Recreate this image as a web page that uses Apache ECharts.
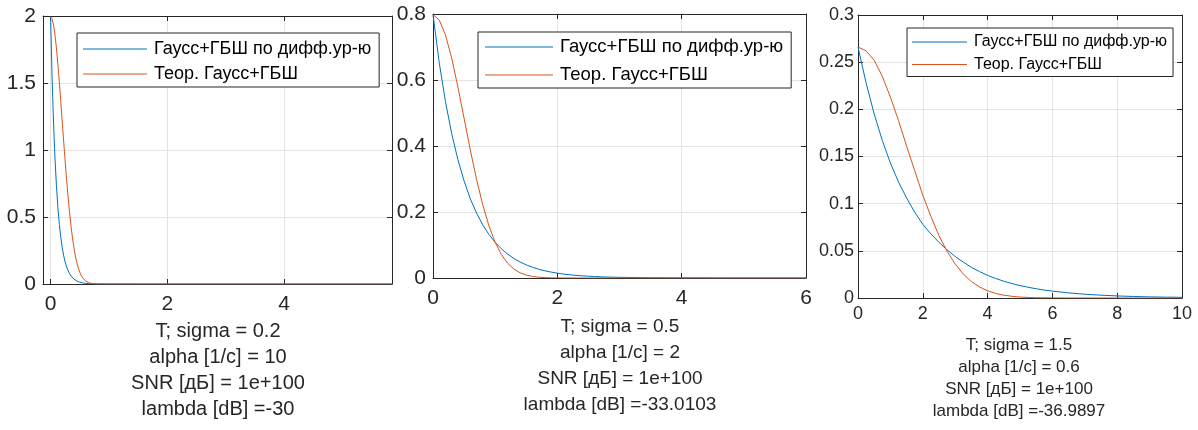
<!DOCTYPE html>
<html>
<head>
<meta charset="utf-8">
<script src="https://cdn.jsdelivr.net/npm/echarts@6/dist/echarts.min.js"></script>
<style>
html,body{margin:0;padding:0;background:#fff;}
#c{width:1198px;height:430px;}
</style>
</head>
<body>
<div id="c"></div>
<script>
// ---- data ----
const seriesNames = ['Гаусс+ГБШ по дифф.ур-ю', 'Теор. Гаусс+ГБШ'];

const p1X     = [0, 0.025, 0.05, 0.075, 0.1, 0.125, 0.15, 0.175, 0.2, 0.225, 0.25, 0.275, 0.3, 0.325, 0.35, 0.375, 0.4, 0.425, 0.45, 0.475, 0.5, 0.525, 0.55, 0.575, 0.6, 0.625, 0.65, 0.675, 0.7, 0.725, 0.75, 0.775, 0.8, 1, 1.5, 2, 3, 4, 5, 5.85];
const p1Diff  = [1.995, 1.554, 1.21, 0.942, 0.734, 0.572, 0.445, 0.347, 0.27, 0.21, 0.164, 0.128, 0.0993, 0.0774, 0.0602, 0.0469, 0.0365, 0.0285, 0.0222, 0.0173, 0.0134, 0.0105, 0.0082, 0.0064, 0.0049, 0.0038, 0.003, 0.0023, 0.0018, 0.0014, 0.0011, 0.0009, 0.0007, 0.0001, 0, 0, 0, 0, 0, 0];
const p1Theor = [1.995, 1.979, 1.934, 1.86, 1.761, 1.641, 1.506, 1.36, 1.21, 1.06, 0.913, 0.775, 0.648, 0.533, 0.432, 0.344, 0.27, 0.209, 0.159, 0.119, 0.0876, 0.0636, 0.0455, 0.032, 0.0222, 0.0151, 0.0101, 0.0067, 0.0044, 0.0028, 0.0018, 0.0011, 0.0007, 0, 0, 0, 0, 0, 0, 0];

const p2X     = [0, 0.1, 0.2, 0.3, 0.4, 0.5, 0.6, 0.7, 0.8, 0.9, 1.0, 1.1, 1.2, 1.3, 1.4, 1.5, 1.6, 1.7, 1.8, 1.9, 2.0, 2.1, 2.2, 2.3, 2.4, 2.5, 2.6, 2.7, 2.8, 2.9, 3.0, 3.5, 4, 5, 6];
const p2Diff  = [0.798, 0.653, 0.535, 0.438, 0.359, 0.294, 0.24, 0.197, 0.161, 0.132, 0.108, 0.0885, 0.0725, 0.0593, 0.0486, 0.0397, 0.0325, 0.0266, 0.0218, 0.0179, 0.0146, 0.012, 0.0098, 0.008, 0.0066, 0.0054, 0.0044, 0.0036, 0.0029, 0.0024, 0.002, 0.0007, 0.0003, 0, 0];
const p2Theor = [0.798, 0.782, 0.737, 0.667, 0.579, 0.484, 0.388, 0.299, 0.222, 0.158, 0.108, 0.0709, 0.0448, 0.0272, 0.0158, 0.0089, 0.0048, 0.0025, 0.0012, 0.0006, 0.0003, 0.0001, 0, 0, 0, 0, 0, 0, 0, 0, 0, 0, 0, 0, 0];

const p3X     = [0, 0.25, 0.5, 0.75, 1, 1.25, 1.5, 1.75, 2, 2.25, 2.5, 2.75, 3, 3.25, 3.5, 3.75, 4, 4.25, 4.5, 4.75, 5, 5.25, 5.5, 5.75, 6, 6.5, 7, 7.5, 8, 8.5, 9, 9.5, 10];
const p3Diff  = [0.266, 0.228, 0.195, 0.167, 0.143, 0.123, 0.106, 0.091, 0.078, 0.068, 0.059, 0.051, 0.044, 0.038, 0.0325, 0.028, 0.024, 0.0207, 0.0178, 0.0153, 0.0132, 0.0114, 0.0098, 0.0084, 0.0073, 0.0054, 0.004, 0.003, 0.0022, 0.0016, 0.0012, 0.0009, 0.0007];
const p3Theor = [0.266, 0.262, 0.252, 0.235, 0.213, 0.188, 0.161, 0.135, 0.109, 0.0864, 0.066, 0.0495, 0.036, 0.0254, 0.0175, 0.0117, 0.0076, 0.0048, 0.003, 0.0018, 0.001, 0.0006, 0.0003, 0.0002, 0.0001, 0, 0, 0, 0, 0, 0, 0, 0];

const p1Ticks = { x: [0, 2, 4], xMin: -0.13, xMax: 5.85, yMin: 0, yMax: 2, yStep: 0.5 };
const p2Ticks = { x: [0, 2, 4, 6], xMin: 0, xMax: 6, yMin: 0, yMax: 0.8, yStep: 0.2 };
const p3Ticks = { x: [0, 2, 4, 6, 8, 10], xMin: 0, xMax: 10, yMin: 0, yMax: 0.3, yStep: 0.05 };

const p1Text = ['T; sigma = 0.2', 'alpha [1/c] = 10', 'SNR [дБ] = 1e+100', 'lambda [dB] =-30'];
const p2Text = ['T; sigma = 0.5', 'alpha [1/c] = 2', 'SNR [дБ] = 1e+100', 'lambda [dB] =-33.0103'];
const p3Text = ['T; sigma = 1.5', 'alpha [1/c] = 0.6', 'SNR [дБ] = 1e+100', 'lambda [dB] =-36.9897'];

// ---- styling / layout ----
const FONT = 'Liberation Sans, Arial, Helvetica, sans-serif';
const AX = '#262626';
const GRIDC = '#e3e3e3';
const BLUE = '#0072BD';
const ORANGE = '#D95319';

const panels = [
  { X: p1X, A: p1Diff, B: p1Theor, t: p1Ticks, text: p1Text,
    grid: { left: 43, top: 16, width: 349, height: 268 },
    tick: 21, xMargin: 10, yMargin: 7,
    legend: { left: 77, top: 33, iw: 64, fs: 18, lh: 20, gap: 5, pad: [6, 8, 3, 6] },
    label: { x: 218, y: 318, fs: 20, lh: 26 } },
  { X: p2X, A: p2Diff, B: p2Theor, t: p2Ticks, text: p2Text,
    grid: { left: 433, top: 14, width: 373, height: 264 },
    tick: 21, xMargin: 10, yMargin: 7,
    legend: { left: 478, top: 32, iw: 68, fs: 18.5, lh: 20, gap: 8, pad: [5, 8, 3, 7] },
    label: { x: 620, y: 314, fs: 19, lh: 26 } },
  { X: p3X, A: p3Diff, B: p3Theor, t: p3Ticks, text: p3Text,
    grid: { left: 858, top: 15, width: 324, height: 283 },
    tick: 18, xMargin: 7, yMargin: 4,
    legend: { left: 907, top: 28, iw: 55, fs: 16, lh: 18, gap: 4.5, pad: [5, 6, 3, 5] },
    label: { x: 1019, y: 334, fs: 17, lh: 22 } }
];

const option = { animation: false, backgroundColor: '#fff', grid: [], xAxis: [], yAxis: [], series: [], legend: [], graphic: [] };

panels.forEach((p, i) => {
  option.grid.push(Object.assign({ show: false }, p.grid));
  const tickStyle = { show: true, inside: true, length: 5, lineStyle: { color: AX, width: 1 } };
  option.xAxis.push({
    type: 'value', gridIndex: i, position: 'bottom', min: p.t.xMin, max: p.t.xMax,
    axisLine: { show: true, onZero: false, lineStyle: { color: AX, width: 1 } },
    axisTick: Object.assign({ customValues: p.t.x }, tickStyle),
    axisLabel: { customValues: p.t.x, color: AX, fontSize: p.tick, fontFamily: FONT, margin: p.xMargin },
    splitLine: { show: true, lineStyle: { color: GRIDC, width: 1 } }
  });
  option.xAxis.push({
    type: 'value', gridIndex: i, position: 'top', min: p.t.xMin, max: p.t.xMax,
    axisLine: { show: true, onZero: false, lineStyle: { color: AX, width: 1 } },
    axisTick: Object.assign({ customValues: p.t.x }, tickStyle),
    axisLabel: { show: false }, splitLine: { show: false }
  });
  option.yAxis.push({
    type: 'value', gridIndex: i, position: 'left', min: p.t.yMin, max: p.t.yMax, interval: p.t.yStep,
    axisLine: { show: true, onZero: false, lineStyle: { color: AX, width: 1 } },
    axisTick: tickStyle,
    axisLabel: { color: AX, fontSize: p.tick, fontFamily: FONT, margin: p.yMargin },
    splitLine: { show: true, lineStyle: { color: GRIDC, width: 1 } }
  });
  option.yAxis.push({
    type: 'value', gridIndex: i, position: 'right', min: p.t.yMin, max: p.t.yMax, interval: p.t.yStep,
    axisLine: { show: true, onZero: false, lineStyle: { color: AX, width: 1 } },
    axisTick: tickStyle, axisLabel: { show: false }, splitLine: { show: false }
  });
  const mk = (name, ys, color) => ({
    type: 'line', name, xAxisIndex: i * 2, yAxisIndex: i * 2,
    data: p.X.map((x, k) => [x, ys[k]]),
    symbol: 'none', showSymbol: false, smooth: false,
    lineStyle: { color, width: 1 }, itemStyle: { color }, clip: true
  });
  option.series.push(mk(seriesNames[0], p.A, BLUE));
  option.series.push(mk(seriesNames[1], p.B, ORANGE));
  const L = p.legend;
  option.legend.push({
    data: seriesNames, orient: 'vertical', left: L.left, top: L.top,
    icon: 'rect', itemWidth: L.iw, itemHeight: 1.2, itemGap: L.gap, padding: L.pad,
    backgroundColor: '#fff', borderColor: AX, borderWidth: 1, borderRadius: 0,
    selectedMode: false,
    textStyle: { fontSize: L.fs, lineHeight: L.lh, color: '#000', fontFamily: FONT, padding: [0, 0, 0, 2] }
  });
  option.graphic.push({
    type: 'text', x: p.label.x, y: p.label.y,
    style: { text: p.text.join('\n'), fill: AX, fontSize: p.label.fs, lineHeight: p.label.lh,
             fontFamily: FONT, textAlign: 'center', textVerticalAlign: 'top' }
  });
});

const chart = echarts.init(document.getElementById('c'), null, { renderer: 'canvas' });
chart.setOption(option);
</script>
</body>
</html>
